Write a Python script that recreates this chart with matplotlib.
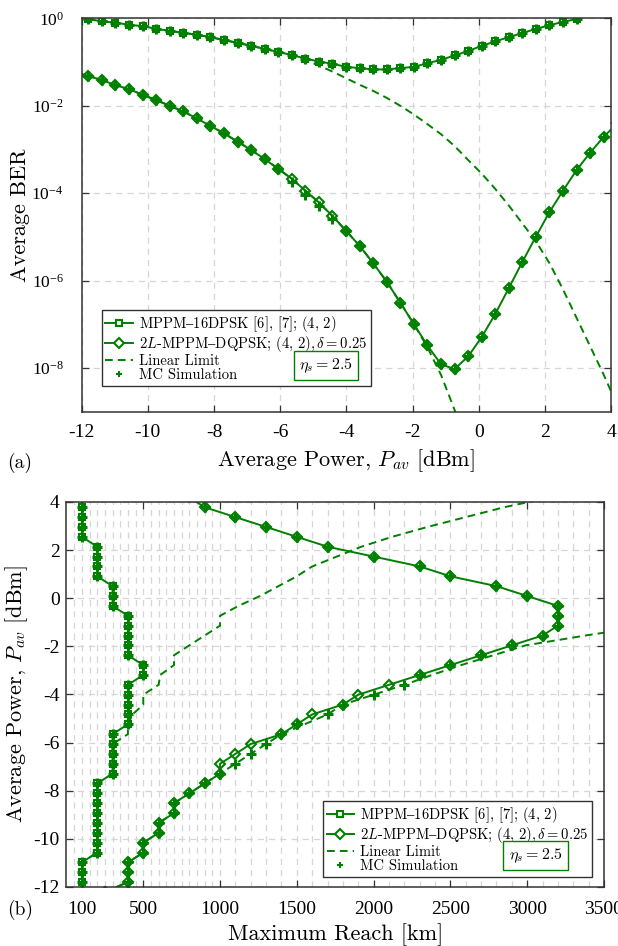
import numpy as np
import matplotlib
matplotlib.use("Agg")
import matplotlib.pyplot as plt
from matplotlib.lines import Line2D
from matplotlib.font_manager import FontProperties
from matplotlib.ticker import FixedLocator, NullLocator, LogFormatterSciNotation

plt.rcParams['font.family'] = ['Liberation Serif', 'DejaVu Serif']
plt.rcParams['mathtext.fontset'] = 'stix'
plt.rcParams['axes.unicode_minus'] = False

GREEN = '#008000'
GRID = '#d6d6d6'
CM = ['cmr10', 'DejaVu Serif']

# average launch power grid [dBm]
p_dbm = [-12.21, -11.80, -11.39, -10.98, -10.57, -10.16, -9.75, -9.34, -8.93, -8.52,
         -8.11, -7.70, -7.29, -6.88, -6.47, -6.06, -5.65, -5.24, -4.83, -4.42,
         -4.01, -3.60, -3.19, -2.78, -2.37, -1.96, -1.55, -1.14, -0.73, -0.32,
         0.09, 0.50, 0.91, 1.32, 1.73, 2.14, 2.55, 2.96, 3.37, 3.78, 4.19]

# (a) log10 of average BER
ber_mppm_exp = [0.02, -0.02, -0.07, -0.10, -0.15, -0.18, -0.24, -0.29, -0.33, -0.38,
                -0.43, -0.50, -0.56, -0.63, -0.70, -0.77, -0.84, -0.92, -0.99, -1.04,
                -1.11, -1.14, -1.17, -1.17, -1.14, -1.11, -1.03, -0.95, -0.85, -0.75,
                -0.63, -0.53, -0.43, -0.34, -0.24, -0.16, -0.08, -0.02]
ber_2l_exp = [-1.22, -1.32, -1.41, -1.53, -1.62, -1.75, -1.87, -2.00, -2.13, -2.29,
              -2.46, -2.63, -2.82, -3.01, -3.22, -3.44, -3.67, -3.94, -4.21, -4.52,
              -4.86, -5.20, -5.60, -6.02, -6.50, -6.99, -7.48, -7.91, -8.02, -7.73,
              -7.29, -6.76, -6.17, -5.57, -4.99, -4.43, -3.94, -3.47, -3.07, -2.71,
              -2.40]
lin_mppm_exp = [0.02, -0.02, -0.07, -0.10, -0.15, -0.18, -0.24, -0.29, -0.33, -0.38,
                -0.43, -0.50, -0.56, -0.63, -0.70, -0.77, -0.84, -0.96, -1.08, -1.22,
                -1.37, -1.52, -1.66, -1.82, -2.00, -2.20, -2.42, -2.65, -2.92, -3.24,
                -3.55, -3.90, -4.28, -4.69, -5.10, -5.60, -6.20, -6.85, -7.50, -8.15,
                -8.85]
lin_2l_exp = [-1.22, -1.32, -1.41, -1.53, -1.62, -1.75, -1.87, -2.00, -2.13, -2.29,
              -2.46, -2.63, -2.82, -3.01, -3.22, -3.44, -3.67, -3.94, -4.21, -4.52,
              -4.86, -5.20, -5.60, -6.02, -6.50, -6.99, -7.52, -8.15, -8.95, -9.90]
mc_mppm_exp = [-0.02, -0.07, -0.10, -0.15, -0.18, -0.24, -0.29, -0.33, -0.38, -0.43,
               -0.50, -0.56, -0.63, -0.70, -0.77, -0.84, -0.92, -0.99, -1.04, -1.11,
               -1.14, -1.17, -1.17, -1.14, -1.11, -1.03, -0.95, -0.85, -0.75, -0.63,
               -0.53, -0.43, -0.34, -0.24, -0.16, -0.08, -0.02]
mc_2l_exp = [-1.32, -1.41, -1.53, -1.62, -1.75, -1.87, -2.00, -2.13, -2.29, -2.46,
             -2.63, -2.82, -3.01, -3.22, -3.44, -3.75, -4.03, -4.30, -4.60, -4.86,
             -5.20, -5.60, -6.02, -6.50, -6.99, -7.48, -7.91, -8.02, -7.73, -7.29,
             -6.76, -6.17, -5.57, -4.99, -4.43, -3.94, -3.47, -3.07, -2.71]

# (b) maximum reach [km]
reach_mppm = [100, 100, 100, 100, 200, 200, 200, 200, 200, 200,
              200, 200, 300, 300, 300, 300, 300, 400, 400, 400,
              400, 400, 500, 500, 400, 400, 400, 400, 400, 300,
              300, 300, 200, 200, 200, 200, 100, 100, 100, 100,
              100]
reach_2l = [250, 400, 400, 400, 500, 500, 600, 600, 700, 700,
            800, 900, 1000, 1000, 1100, 1200, 1400, 1500, 1600, 1800,
            1900, 2100, 2300, 2500, 2700, 2900, 3100, 3200, 3200, 3200,
            3000, 2800, 2500, 2300, 2000, 1700, 1500, 1300, 1100, 900,
            800]
lin_reach_mppm = [100, 100, 100, 100, 200, 200, 200, 200, 200, 200,
                  200, 200, 300, 300, 300, 300, 400, 400, 430, 500,
                  500, 600, 610, 700, 700, 800, 900, 1000, 1000, 1120,
                  1260, 1380, 1500, 1600, 1760, 1920, 2120, 2350, 2600, 2850,
                  3150]
lin_reach_2l = [250, 400, 400, 400, 500, 500, 600, 600, 700, 700,
                800, 900, 1000, 1100, 1200, 1300, 1400, 1550, 1700, 1800,
                2000, 2200, 2380, 2570, 2780, 2990, 3380, 3800]
mc_reach_mppm = reach_mppm[1:40]
mc_reach_2l = [400, 400, 400, 500, 500, 600, 600, 700, 700, 800,
               900, 1000, 1100, 1200, 1300, 1400, 1500, 1700, 1800, 2000,
               2200, 2300, 2500, 2700, 2900, 3100, 3200, 3200, 3200, 3000,
               2800, 2500, 2300, 2000, 1700, 1500, 1300, 1100, 900]

labels = ['MPPM$\u2013$16DPSK [6], [7]; $(4,\\,2)$',
          '2$L$-MPPM$\u2013$DQPSK; $(4,\\,2), \\delta=0.25$',
          'Linear Limit', 'MC Simulation']

p = np.array(p_dbm)
line_kw = dict(color=GREEN, lw=1.4, mew=1.5, ms=5)
dash_kw = dict(color=GREEN, lw=1.4, ls=(0, (4, 2.6)))
mc_kw = dict(color=GREEN, ls='none', marker='+', ms=7, mew=2.2)

fig = plt.figure(figsize=(6.18, 9.46), dpi=100)
ax1 = fig.add_axes([0.1322, 0.5645, 0.8565, 0.4162])
ax2 = fig.add_axes([0.1076, 0.0624, 0.8697, 0.4070])


def style_axes(ax):
    ax.grid(True, which='major', color=GRID, ls=(0, (5, 4)), lw=0.9)
    ax.set_axisbelow(True)
    ax.tick_params(which='both', direction='in', top=True, right=True,
                   length=5, width=0.9, labelsize=14, color='#333333')
    for s in ax.spines.values():
        s.set_color('#333333')
        s.set_linewidth(1.1)


def add_legend(ax, anchor, eta_xy):
    handles = [Line2D([], [], marker='s', mfc='white', **line_kw),
               Line2D([], [], marker='D', mfc='white', **line_kw),
               Line2D([], [], **dash_kw),
               Line2D([], [], color=GREEN, ls='none', marker='+', ms=5, mew=1.5)]
    prop = FontProperties(family=CM, size=10.5, math_fontfamily='cm')
    leg = ax.legend(handles, labels, loc='lower left', bbox_to_anchor=anchor,
                    borderaxespad=0, prop=prop, handlelength=1.9, handletextpad=0.4,
                    labelspacing=0.02, borderpad=0.25, fancybox=False, framealpha=1,
                    edgecolor='#333333')
    leg.get_frame().set_linewidth(1.0)
    ax.text(eta_xy[0], eta_xy[1], r'$\eta_s=2.5$', transform=ax.transAxes,
            ha='center', va='center', fontsize=11.5, math_fontfamily='cm', zorder=6,
            bbox=dict(boxstyle='square,pad=0.35', fc='white', ec=GREEN, lw=1.0))


# (a) BER versus launch power
ax1.plot(p[:len(lin_mppm_exp)], 10.0 ** np.array(lin_mppm_exp), **dash_kw)
ax1.plot(p[:len(lin_2l_exp)], 10.0 ** np.array(lin_2l_exp), **dash_kw)
ax1.plot(p[:len(ber_mppm_exp)], 10.0 ** np.array(ber_mppm_exp), marker='s', mfc='none', **line_kw)
ax1.plot(p[:len(ber_2l_exp)], 10.0 ** np.array(ber_2l_exp), marker='D', mfc='none', **line_kw)
ax1.plot(p[1:1 + len(mc_mppm_exp)], 10.0 ** np.array(mc_mppm_exp), **mc_kw)
ax1.plot(p[1:1 + len(mc_2l_exp)], 10.0 ** np.array(mc_2l_exp), **mc_kw)
ax1.set_yscale('log')
ax1.set_xlim(-12, 4)
ax1.set_ylim(1e-9, 1e0)
ax1.xaxis.set_major_locator(FixedLocator([-12, -10, -8, -6, -4, -2, 0, 2, 4]))
ax1.yaxis.set_major_locator(FixedLocator([1e-8, 1e-6, 1e-4, 1e-2, 1e0]))
ax1.yaxis.set_major_formatter(LogFormatterSciNotation())
ax1.yaxis.set_minor_locator(NullLocator())
style_axes(ax1)
ax1.tick_params(axis='x', pad=9)
ax1.tick_params(axis='y', pad=13, labelsize=12.5)
ax1.set_xlabel('Average Power, $P_{av}$ [dBm]', fontsize=16, fontfamily=CM,
               math_fontfamily='cm', labelpad=4)
ax1.set_ylabel('Average BER', fontsize=16, fontfamily=CM)
ax1.yaxis.set_label_coords(-0.098, 0.5)
add_legend(ax1, (0.038, 0.066), (0.4616, 0.118))

# (b) maximum reach versus launch power
ax2.plot(lin_reach_mppm, p[:len(lin_reach_mppm)], **dash_kw)
ax2.plot(lin_reach_2l, p[:len(lin_reach_2l)], **dash_kw)
ax2.plot(reach_mppm, p[:len(reach_mppm)], marker='s', mfc='none', **line_kw)
ax2.plot(reach_2l, p[:len(reach_2l)], marker='D', mfc='none', **line_kw)
ax2.plot(mc_reach_mppm, p[1:1 + len(mc_reach_mppm)], **mc_kw)
ax2.plot(mc_reach_2l, p[1:1 + len(mc_reach_2l)], **mc_kw)
ax2.set_xlim(0, 3500)
ax2.set_ylim(-12, 4)
ax2.xaxis.set_major_locator(FixedLocator([100, 500, 1000, 1500, 2000, 2500, 3000, 3500]))
ax2.xaxis.set_minor_locator(FixedLocator(list(range(50, 1000, 50)) + list(range(1100, 3500, 100))))
ax2.yaxis.set_major_locator(FixedLocator([-12, -10, -8, -6, -4, -2, 0, 2, 4]))
style_axes(ax2)
ax2.grid(True, which='minor', axis='x', color=GRID, ls=(0, (5, 4)), lw=0.9)
ax2.tick_params(which='minor', length=0)
ax2.tick_params(axis='x', pad=10)
ax2.tick_params(axis='y', pad=5)
ax2.set_xlabel('Maximum Reach [km]', fontsize=16, fontfamily=CM, labelpad=4)
ax2.set_ylabel('Average Power, $P_{av}$ [dBm]', fontsize=16, fontfamily=CM,
               math_fontfamily='cm', labelpad=2)
add_legend(ax2, (0.477, 0.026), (0.8726, 0.0818))

fig.text(7 / 618, 1 - 463 / 946, '(a)', fontsize=14, fontfamily=CM, va='center')
fig.text(7 / 618, 1 - 910 / 946, '(b)', fontsize=14, fontfamily=CM, va='center')

fig.savefig('out.png', dpi=100)
